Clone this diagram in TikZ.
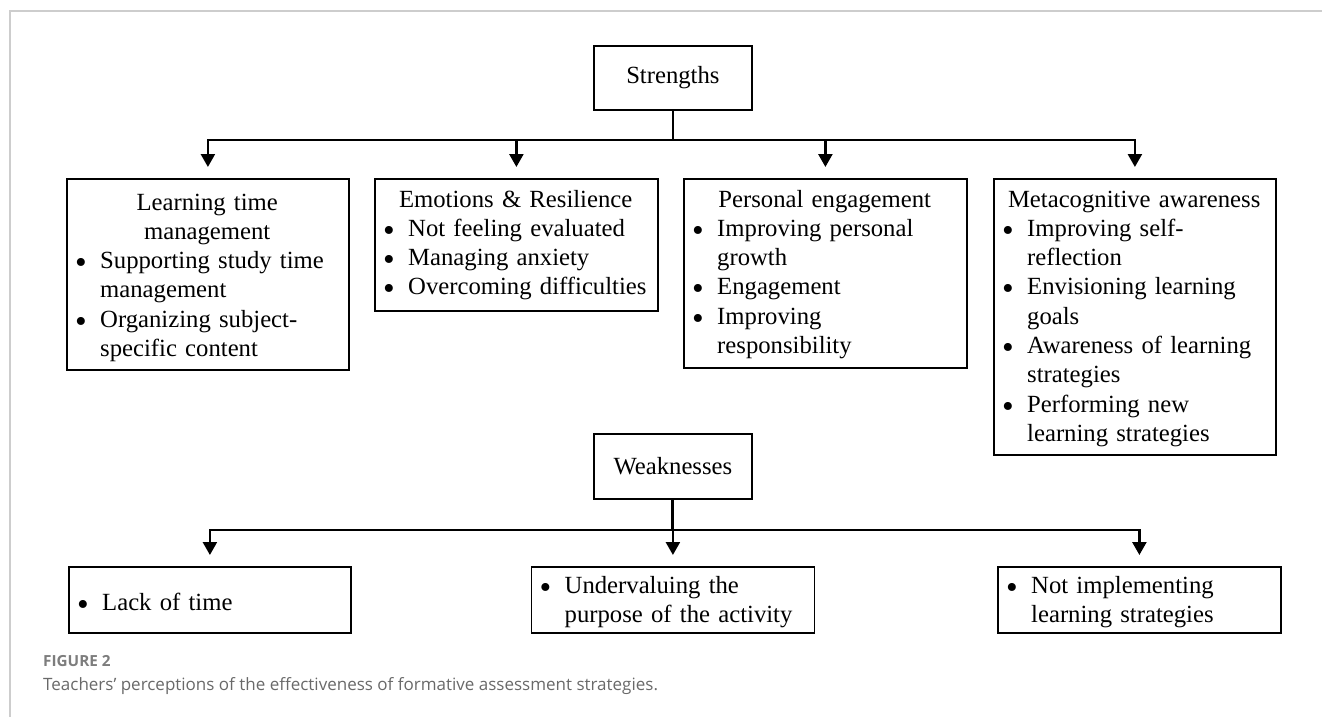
\documentclass[tikz,border=0pt]{standalone}
\usepackage{graphicx}
\usepackage{fontspec}
\setmainfont{Liberation Serif}
\newfontfamily\capfont{Open Sans}
\usetikzlibrary{arrows.meta,calc}
\definecolor{framegray}{RGB}{205,205,205}
\definecolor{capgray}{RGB}{105,105,105}
\definecolor{figgray}{RGB}{125,125,125}
\setlength\parindent{0pt}
\setlength\parskip{0pt}
\newcommand\bul{\makebox[24pt][l]{\hspace*{-1pt}\raisebox{-5pt}[0pt][0pt]{\scalebox{1.35}{\textbullet}}}}
\newcommand\bulpad{\hspace*{24pt}}
\tikzset{
  box/.style={draw=black, line width=1.8pt, inner sep=0pt, anchor=north west},
  txt/.style={inner sep=0pt, anchor=base west, font=\fontsize{24.7}{29.3}\selectfont},
  conn/.style={line width=2.4pt},
  arr/.style={line width=2.4pt, -{Triangle[length=13pt,width=14pt]}, shorten >=11pt},
}
\begin{document}
\begin{tikzpicture}[x=1pt,y=-1pt]
\useasboundingbox (0,0) rectangle (1322,717);
% frame
\draw[framegray, line width=1.5pt] (10,717) -- (10,11) -- (1322,11);

% Strengths
\node[box, minimum width=158pt, minimum height=64pt, font=\fontsize{24.7}{29.3}\selectfont] (S) at (593,45) {Strengths};

\node[box, minimum width=282pt, minimum height=191pt] (b1) at (66,178) {};
\node[box, minimum width=283pt, minimum height=132pt] (b2) at (374,178) {};
\node[box, minimum width=283pt, minimum height=189pt] (b3) at (683,178) {};
\node[box, minimum width=282pt, minimum height=276pt] (b4) at (993,178) {};

\node[txt, text width=262pt] (t1) at ($(b1.north west)+(10,32)$) {\raggedright
{\centering Learning time\\ management\par}
\bul Supporting study time\\ \bulpad management\par
\bul Organizing subject-\\ \bulpad specific content\par};

\node[txt, text width=263pt] (t2) at ($(b2.north west)+(10,29)$) {\raggedright
{\centering Emotions \& Resilience\par}
\bul Not feeling evaluated\par
\bul Managing anxiety\par
\bul Overcoming difficulties\par};

\node[txt, text width=263pt] (t3) at ($(b3.north west)+(10,29)$) {\raggedright
{\centering Personal engagement\par}
\bul Improving personal\\ \bulpad growth\par
\bul Engagement\par
\bul Improving\\ \bulpad responsibility\par};

\node[txt, text width=262pt] (t4) at ($(b4.north west)+(10,29)$) {\raggedright
{\centering Metacognitive awareness\par}
\bul Improving self-\\ \bulpad reflection\par
\bul Envisioning learning\\ \bulpad goals\par
\bul Awareness of learning\\ \bulpad strategies\par
\bul Performing new\\ \bulpad learning strategies\par};

\draw[conn] (S.south) -- ++(0,29) coordinate (sj);
\foreach \b in {b1,b2,b3,b4} \draw[arr] (sj) -| (\b.north);

% Weaknesses
\node[box, minimum width=158pt, minimum height=65pt, font=\fontsize{24.7}{29.3}\selectfont] (W) at (593,433) {Weaknesses};

\node[box, minimum width=282pt, minimum height=66pt] (c1) at (68,566) {};
\node[box, minimum width=283pt, minimum height=66pt] (c2) at (530.5,566) {};
\node[box, minimum width=283pt, minimum height=66pt] (c3) at (997,566) {};

\node[txt, text width=262pt] (u1) at ($(c1.north west)+(10,44)$) {\raggedright
\bul Lack of time\par};
\node[txt, text width=263pt] (u2) at ($(c2.north west)+(10,27)$) {\raggedright
\bul Undervaluing the\\ \bulpad purpose of the activity\par};
\node[txt, text width=263pt] (u3) at ($(c3.north west)+(10,27)$) {\raggedright
\bul Not implementing\\ \bulpad learning strategies\par};

\draw[conn] (W.south) -- ++(0,30) coordinate (wj);
\draw[arr] (wj) -| (c1.north);
\draw[arr] (wj) -| (c3.north);
\draw[line width=3pt] (W.south) -- (wj);
\draw[arr] (W.south) -- (c2.north);

% caption
\node[anchor=base west, inner sep=0pt, font=\capfont\bfseries\fontsize{15.3}{18}\selectfont, text=figgray] (fig) at (43,666) {FIGURE 2};
\node[anchor=base west, inner sep=0pt, font=\capfont\fontsize{17}{20}\selectfont, text=capgray] (cap) at (43,690.5) {Teachers’ perceptions of the effectiveness of formative assessment strategies.};
\end{tikzpicture}
\end{document}
